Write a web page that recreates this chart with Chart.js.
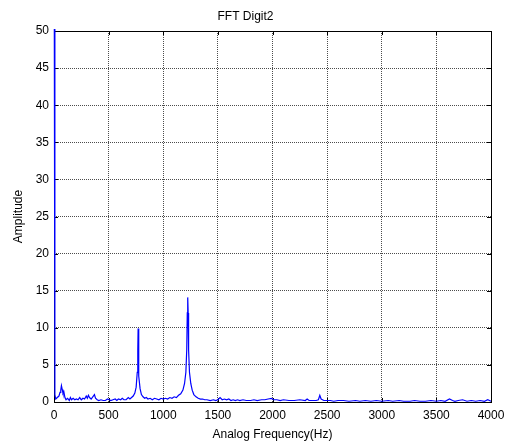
<!DOCTYPE html>
<html>
<head>
<meta charset="utf-8">
<script src="https://cdn.jsdelivr.net/npm/chart.js@4/dist/chart.umd.min.js"></script>
<style>
html,body{margin:0;padding:0;background:#fff;}
#wrap{width:512px;height:442px;}
</style>
</head>
<body>
<div id="wrap"><canvas id="c" width="512" height="442"></canvas></div>
<script>
const freqs = [0,8,16,30,45,55,62,68,75,82,90,100,110,125,140,150,160,175,190,205,220,235,250,265,280,295,305,315,325,340,355,370,380,395,410,430,450,470,490,505,520,540,560,575,590,610,625,640,660,680,695,710,725,740,752,762,767,770,773,778,788,800,815,830,845,860,880,900,920,940,960,980,1000,1020,1040,1060,1080,1100,1120,1140,1160,1180,1195,1207,1215,1220,1224,1228,1232,1240,1252,1265,1280,1300,1320,1340,1360,1380,1400,1430,1460,1480,1500,1520,1540,1560,1580,1600,1620,1640,1660,1680,1700,1730,1760,1800,1830,1860,1900,1930,1960,1990,2010,2040,2070,2100,2150,2200,2250,2300,2317,2335,2360,2400,2420,2433,2445,2470,2500,2530,2560,2600,2650,2700,2760,2800,2850,2900,2950,3000,3060,3100,3160,3200,3260,3300,3350,3400,3450,3500,3540,3580,3620,3648,3670,3700,3740,3780,3820,3860,3900,3940,3970,4000];
const amps  = [80,1.0,0.4,0.6,0.8,1.3,1.6,2.2,1.7,1.2,1.4,0.6,0.3,0.5,0.2,0.6,0.3,0.5,0.3,0.4,0.3,0.6,0.3,0.5,0.4,0.8,0.5,0.9,0.6,0.4,0.7,1.0,0.5,0.3,0.2,0.3,0.2,0.2,0.4,0.3,0.2,0.3,0.4,0.2,0.4,0.3,0.5,0.3,0.3,0.6,0.4,0.6,0.8,1.2,2.0,4.0,7.0,9.9,7.0,3.5,1.8,1.0,0.7,0.5,0.6,0.4,0.5,0.3,0.5,0.4,0.3,0.5,0.4,0.5,0.4,0.6,0.5,0.7,0.6,0.9,1.1,1.6,2.5,4.0,7.0,12,14.1,12,7.0,4.0,2.5,1.6,1.0,0.7,0.5,0.4,0.4,0.3,0.3,0.2,0.3,0.2,0.3,0.6,0.3,0.4,0.3,0.4,0.2,0.3,0.2,0.3,0.2,0.3,0.2,0.2,0.3,0.2,0.3,0.3,0.4,0.5,0.3,0.3,0.2,0.3,0.2,0.2,0.3,0.2,0.4,0.2,0.2,0.2,0.3,0.9,0.4,0.2,0.2,0.2,0.1,0.2,0.2,0.1,0.2,0.1,0.2,0.1,0.2,0.1,0.2,0.1,0.2,0.1,0.1,0.2,0.1,0.1,0.2,0.1,0.2,0.1,0.4,0.2,0.1,0.2,0.3,0.1,0.2,0.1,0.2,0.1,0.3,0.1];
const xTicks = [0,500,1000,1500,2000,2500,3000,3500,4000];
const yTicks = [0,5,10,15,20,25,30,35,40,45,50];
const titleText = 'FFT Digit2';
const xLabel = 'Analog Frequency(Hz)';
const yLabel = 'Amplitude';

const points = freqs.map((f,i)=>({x:f,y:amps[i]}));
const FONT = {family:'"Liberation Sans", Arial, sans-serif', size:12};
const GRID = 'rgba(0,0,0,0.7)';

const framePlugin = {
  id:'frame',
  beforeDatasetsDraw(chart){
    const {ctx, chartArea:a, scales:{x,y}} = chart;
    ctx.save();
    ctx.strokeStyle='#000';
    ctx.lineWidth=1;
    ctx.setLineDash([]);
    ctx.beginPath();
    const t=4;
    xTicks.forEach(v=>{const px=Math.round(x.getPixelForValue(v))+0.5;
      ctx.moveTo(px,a.bottom);ctx.lineTo(px,a.bottom-t);
      ctx.moveTo(px,a.top);ctx.lineTo(px,a.top+t);});
    yTicks.forEach(v=>{const py=Math.round(y.getPixelForValue(v))+0.5;
      ctx.moveTo(a.left,py);ctx.lineTo(a.left+t,py);
      ctx.moveTo(a.right,py);ctx.lineTo(a.right-t,py);});
    ctx.stroke();
    ctx.strokeRect(Math.round(a.left)+0.5,Math.round(a.top)+0.5,Math.round(a.right-a.left),Math.round(a.bottom-a.top));
    ctx.restore();
  }
};

new Chart(document.getElementById('c'),{
  type:'line',
  data:{datasets:[{data:points,borderColor:'#0000ff',borderWidth:1.2,pointRadius:0,tension:0,fill:false,clip:2}]},
  options:{
    responsive:false,animation:false,
    layout:{padding:{left:0,right:21,top:0,bottom:0}},
    plugins:{
      legend:{display:false},tooltip:{enabled:false},
      title:{display:true,text:titleText,color:'#000',font:{...FONT,weight:'normal'},padding:{top:9,bottom:7.6}}
    },
    scales:{
      x:{type:'linear',min:0,max:4000,
        afterBuildTicks(s){s.ticks=xTicks.map(v=>({value:v}));},
        afterFit(s){s.height=40;},
        ticks:{color:'#000',font:FONT,padding:6,maxRotation:0,autoSkip:false,callback:v=>String(v)},
        grid:{color:GRID,lineWidth:1,drawTicks:false},
        border:{display:false,dash:[1,1]},
        title:{display:true,text:xLabel,color:'#000',font:FONT,padding:{top:2,bottom:0}}
      },
      y:{type:'linear',min:0,max:50,
        afterBuildTicks(s){s.ticks=yTicks.map(v=>({value:v}));},
        afterFit(s){s.width=54;},
        ticks:{color:'#000',font:FONT,padding:5,autoSkip:false,callback:v=>String(v)},
        grid:{color:GRID,lineWidth:1,drawTicks:false},
        border:{display:false,dash:[1,1]},
        title:{display:true,text:yLabel,color:'#000',font:FONT,padding:{top:11,bottom:0}}
      }
    }
  },
  plugins:[framePlugin]
});
</script>
</body>
</html>
